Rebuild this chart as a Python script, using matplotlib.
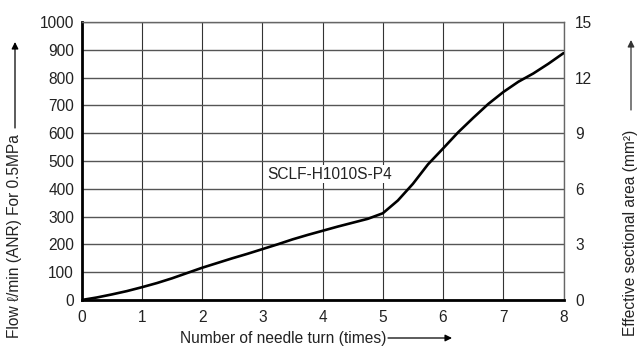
import matplotlib
matplotlib.use("Agg")
import matplotlib.pyplot as plt
from matplotlib.patches import FancyArrowPatch

plt.rcParams['font.family'] = ['Liberation Sans', 'DejaVu Sans']

# Needle turns vs. flow (l/min ANR at 0.5 MPa)
turns = [0, 0.25, 0.5, 0.75, 1, 1.25, 1.5, 1.75, 2, 2.25, 2.5, 2.75, 3, 3.25,
         3.5, 3.75, 4, 4.25, 4.5, 4.75, 5, 5.25, 5.5, 5.75, 6, 6.25, 6.5,
         6.75, 7, 7.25, 7.5, 7.75, 8]
flow = [0, 9, 20, 32, 46, 61, 78, 97, 116, 133, 150, 166, 183, 200,
        218, 234, 249, 264, 278, 292, 312, 358, 418, 488, 545, 603, 655,
        705, 748, 785, 815, 850, 888]

x_ticks = [0, 1, 2, 3, 4, 5, 6, 7, 8]
flow_ticks = [0, 100, 200, 300, 400, 500, 600, 700, 800, 900, 1000]
area_ticks = [0, 3, 6, 9, 12, 15]
model = "SCLF-H1010S-P4"

FS = 11.2
TXT = '#222222'

W, H = 637, 347
fig = plt.figure(figsize=(W / 100, H / 100), dpi=100)
ax = fig.add_axes([81.7 / W, 1 - 300 / H, (563.5 - 81.7) / W, (300 - 22) / H])

ax.set_xlim(0, 8)
ax.set_ylim(0, 1000)
ax.set_xticks(x_ticks)
ax.set_yticks(flow_ticks)
ax.grid(True, axis='y', color='#555555', linewidth=1.0)
ax.grid(True, axis='x', color='#333333', linewidth=0.8)
ax.set_axisbelow(True)
ax.tick_params(axis='both', length=0, labelsize=FS, colors=TXT)
ax.tick_params(axis='x', pad=7.5)
ax.tick_params(axis='y', pad=5.5)
for s in ('top', 'right'):
    ax.spines[s].set_color('#666666')
    ax.spines[s].set_linewidth(1.0)
for s in ('left', 'bottom'):
    ax.spines[s].set_color('black')
    ax.spines[s].set_linewidth(2.0)

ax.plot(turns, flow, color='black', linewidth=1.9, solid_capstyle='round', zorder=3)

ax.text(4.11, 453, model, ha='center', va='center', fontsize=FS, color=TXT,
        bbox=dict(facecolor='white', edgecolor='none', pad=1.0), zorder=2)

ax2 = ax.twinx()
ax2.set_ylim(0, 15)
ax2.set_yticks(area_ticks)
ax2.tick_params(axis='y', length=0, labelsize=FS, colors=TXT, pad=8.3)
for s in ax2.spines.values():
    s.set_visible(False)


def arrow(p0, p1, color='black'):
    fig.add_artist(FancyArrowPatch(
        (p0[0] / W, 1 - p0[1] / H), (p1[0] / W, 1 - p1[1] / H),
        transform=fig.transFigure, arrowstyle='-|>', mutation_scale=10,
        color=color, linewidth=0.9, shrinkA=0, shrinkB=0))


# Axis titles with direction arrows
fig.text(180 / W, 1 - 338 / H, "Number of needle turn (times)", ha='left', va='center',
         fontsize=FS, color=TXT)
arrow((388, 338), (452, 338))

fig.text(15 / W, 1 - 338 / H, "Flow ℓ/min (ANR) For 0.5MPa", rotation=90,
         ha='center', va='bottom', fontsize=FS, color=TXT)
arrow((15, 128), (15, 42))

fig.text(631 / W, 1 - 336 / H, "Effective sectional area (mm²)", rotation=90,
         ha='center', va='bottom', fontsize=FS, color=TXT)
arrow((631, 110), (631, 40), color='#333333')

fig.savefig("out.png", dpi=100)
